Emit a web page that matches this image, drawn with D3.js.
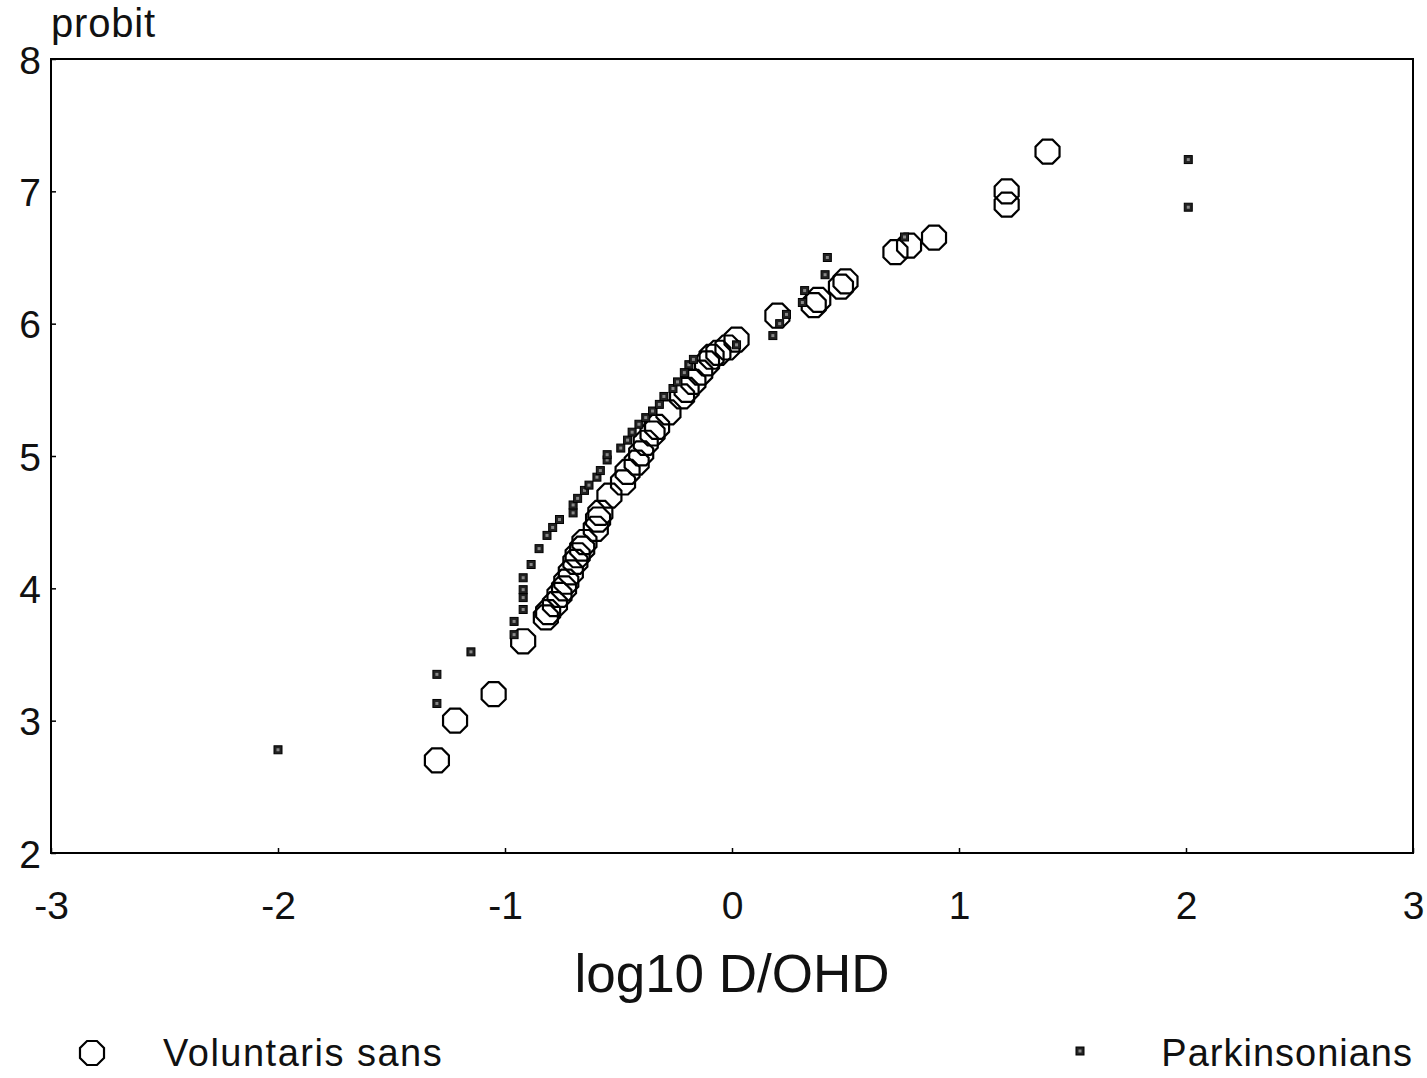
<!DOCTYPE html>
<html><head><meta charset="utf-8">
<script src="https://cdn.jsdelivr.net/npm/d3@7"></script>
<style>body{margin:0;background:#fff}</style>
</head><body>
<svg id="c" width="1427" height="1078"></svg>
<script>
const xTicks = [-3,-2,-1,0,1,2,3];
const yTicks = [2,3,4,5,6,7,8];
const seriesNames = ["Voluntaris sans","Parkinsonians"];
const xLabel = "log10 D/OHD";
const yLabel = "probit";

const voluntaris = [
[-1.30,2.70],[-1.22,3.00],[-1.05,3.20],[-0.92,3.60],[-0.82,3.78],[-0.81,3.82],[-0.78,3.88],[-0.76,3.95],
[-0.74,4.00],[-0.73,4.05],[-0.71,4.12],[-0.69,4.20],[-0.68,4.25],[-0.66,4.30],[-0.65,4.35],[-0.60,4.45],
[-0.59,4.52],[-0.58,4.57],[-0.54,4.70],[-0.48,4.80],[-0.46,4.88],[-0.42,4.95],[-0.40,5.02],[-0.38,5.10],
[-0.35,5.17],[-0.33,5.22],[-0.28,5.33],[-0.22,5.45],[-0.20,5.50],[-0.17,5.56],[-0.14,5.63],[-0.11,5.70],
[-0.09,5.75],[-0.06,5.78],[-0.02,5.82],[0.02,5.88],[0.20,6.06],[0.36,6.14],[0.38,6.18],[0.48,6.28],
[0.50,6.32],[0.72,6.54],[0.78,6.59],[0.89,6.65],[1.21,6.90],[1.21,7.00],[1.39,7.30]
];
const parkinsonians = [
[-2.00,2.78],[-1.30,3.13],[-1.30,3.35],[-1.15,3.52],[-0.96,3.65],[-0.96,3.75],[-0.92,3.84],[-0.92,3.93],
[-0.92,3.99],[-0.92,4.08],[-0.885,4.18],[-0.85,4.30],[-0.815,4.40],[-0.79,4.46],[-0.76,4.52],[-0.70,4.57],
[-0.70,4.63],[-0.68,4.68],[-0.65,4.74],[-0.63,4.78],[-0.595,4.84],[-0.58,4.89],[-0.55,4.97],[-0.55,5.01],
[-0.49,5.06],[-0.46,5.12],[-0.44,5.18],[-0.41,5.24],[-0.38,5.29],[-0.35,5.34],[-0.32,5.39],[-0.30,5.45],
[-0.26,5.51],[-0.24,5.56],[-0.21,5.63],[-0.19,5.69],[-0.17,5.73],[0.02,5.84],[0.18,5.91],[0.21,6.00],
[0.24,6.07],[0.31,6.16],[0.32,6.25],[0.41,6.37],[0.42,6.50],[0.76,6.655],[2.01,6.88],[2.01,7.24]
];

const svg = d3.select("#c");
const L=51, R=1413, T=59, B=853;
const x = d3.scaleLinear().domain([-3,3]).range([L,R]);
const y = d3.scaleLinear().domain([2,8]).range([B,T]);
const font = "'Liberation Sans', Arial, sans-serif";

svg.append("rect").attr("x",L).attr("y",T).attr("width",R-L).attr("height",B-T)
  .attr("fill","none").attr("stroke","#000").attr("stroke-width",2);

const xa = svg.append("g").attr("transform",`translate(0,${B})`)
  .call(d3.axisBottom(x).tickValues(xTicks).tickSize(-5).tickFormat(d=>String(d)));
const ya = svg.append("g").attr("transform",`translate(${L},0)`)
  .call(d3.axisLeft(y).tickValues(yTicks).tickSize(-5).tickPadding(10).tickFormat(d3.format("d")));
[xa,ya].forEach(a=>{
  a.select(".domain").remove();
  a.selectAll(".tick line").attr("stroke","#000").attr("stroke-width",1.5);
  a.selectAll(".tick text").attr("font-family",font).attr("font-size",39).attr("fill","#111");
});
xa.selectAll(".tick text").attr("dy","0.35em").attr("y",52);
ya.selectAll(".tick text").attr("dy","0.36em");

svg.append("text").attr("x",51).attr("y",37).text(yLabel)
  .attr("font-family",font).attr("font-size",40).attr("letter-spacing",0.8).attr("fill","#111");
svg.append("text").attr("x",x(0)).attr("y",992).attr("text-anchor","middle").text(xLabel)
  .attr("font-family",font).attr("font-size",53).attr("fill","#111");

const octR = 13;
const oct = d3.range(8).map(i=>{const a=Math.PI/8+i*Math.PI/4;return [octR*Math.cos(a),octR*Math.sin(a)];});
const octPath = "M"+oct.map(p=>p.join(",")).join("L")+"Z";

function drawOct(g,cx,cy){
  g.append("path").attr("d",octPath).attr("transform",`translate(${cx},${cy})`)
   .attr("fill","none").attr("stroke","#000").attr("stroke-width",2.2);
}
function drawSq(g,cx,cy){
  g.append("rect").attr("x",cx-4).attr("y",cy-4).attr("width",8).attr("height",8)
   .attr("fill","#222").attr("stroke","#000").attr("stroke-width",1);
  g.append("rect").attr("x",cx-1.5).attr("y",cy-1.5).attr("width",3).attr("height",3).attr("fill","#888");
}

const gp = svg.append("g");
voluntaris.forEach(d=>drawOct(gp,x(d[0]),y(d[1])));
parkinsonians.forEach(d=>drawSq(gp,x(d[0]),y(d[1])));

const lg = svg.append("g");
drawOct(lg,92,1053);
lg.append("text").attr("x",163).attr("y",1066).text(seriesNames[0])
  .attr("font-family",font).attr("font-size",38).attr("letter-spacing",1.5).attr("fill","#111");
drawSq(lg,1080,1051);
lg.append("text").attr("x",1413).attr("y",1066).attr("text-anchor","end").text(seriesNames[1])
  .attr("font-family",font).attr("font-size",38).attr("letter-spacing",1).attr("fill","#111");
</script>
</body></html>
